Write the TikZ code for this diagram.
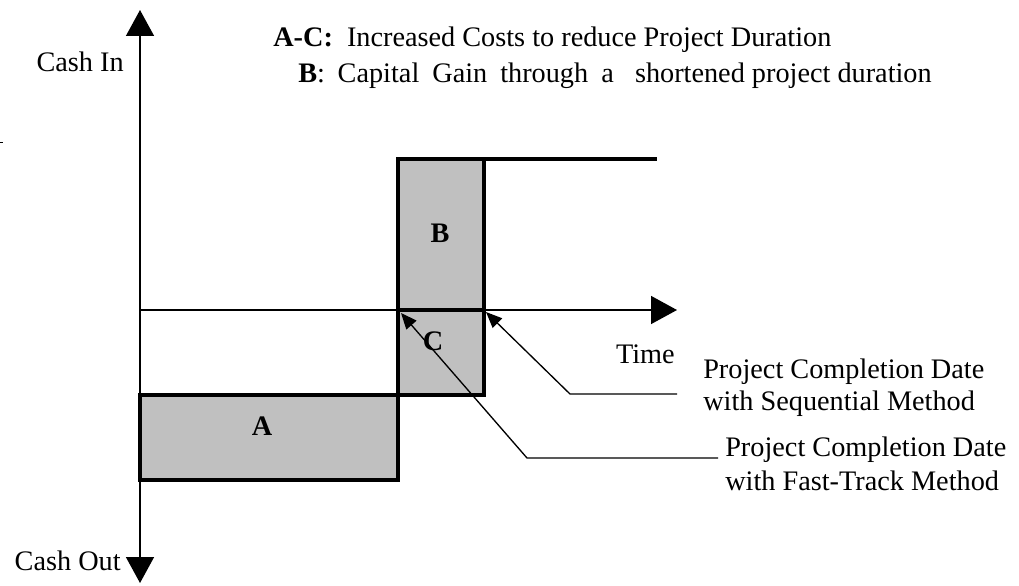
\documentclass[tikz,border=0pt]{standalone}
\usepackage{fontspec}
\setmainfont{Liberation Serif}
\usetikzlibrary{arrows.meta}
\definecolor{barfill}{HTML}{C0C0C0}
\begin{document}
\begin{tikzpicture}[x=0.75pt,y=-0.75pt,
  every node/.style={font=\fontsize{21.2}{25}\selectfont, inner sep=0pt},
  axis/.style={line width=1.1pt},
  bigtip/.style={-{Triangle[length=19.5pt,width=21pt]}},
  box/.style={draw, line width=2.6pt, fill=barfill},
  thickline/.style={line width=2.6pt},
  callout/.style={line width=1pt, -{Triangle[length=12pt,width=10pt]}},
  lbl/.style={font=\fontsize{21.2}{25}\selectfont\bfseries}]
\useasboundingbox (0,0) rectangle (1019,585);
% axes
\coordinate (O) at (140,310);
\coordinate (ytop) at (140,10);
\coordinate (ybot) at (140,583);
\coordinate (xend) at (677,310);
\draw[axis,bigtip] (O) -- (ytop);
\draw[axis,bigtip] (O) -- (ybot);
\draw[axis,bigtip] (O) -- (xend);
% bars
\draw[box] (140,395) rectangle (398,480);
\draw[box] (398,310) rectangle (484,395);
\draw[box] (398,159) rectangle (484,310);
\coordinate (bt) at (484,159);
\coordinate (lineend) at (657,159);
\draw[thickline] (bt) -- (lineend);
% labels
\node[lbl,anchor=base] (A) at (262,435) {A};
\node[lbl,anchor=base] (B) at (440,242) {B};
\node[lbl,anchor=base] (C) at (433,350) {C};
% axis texts
\node[anchor=base east] (cashin) at (124,71) {Cash In};
\node[anchor=base east] (cashout) at (121,570) {Cash Out};
\node[anchor=base east] (time) at (675,363) {Time};
% legend
\node[anchor=base west] (leg1) at (273,47) {\textbf{A-C:}\hspace{0.5em}Increased Costs to reduce Project Duration};
\node[anchor=base west] (leg2) at (298,83) {\textbf{B}:\hspace{0.45em}Capital\hspace{0.46em}Gain\hspace{0.46em}through\hspace{0.46em}a\hspace{0.75em}shortened project duration};
% callouts
\node[anchor=base west] (seq1) at (703,378) {Project Completion Date};
\node[anchor=base west] (seq2) at (703,410) {with Sequential Method};
\node[anchor=base west] (fast1) at (725,456) {Project Completion Date};
\node[anchor=base west] (fast2) at (725,490) {with Fast-Track Method};
\coordinate (s1) at (677,394);
\coordinate (s2) at (570,394);
\coordinate (stip) at (486,312);
\draw[callout] (s1) -- (s2) -- (stip);
\coordinate (f1) at (718,458);
\coordinate (f2) at (527,458);
\coordinate (ftip) at (401,313);
\draw[callout] (f1) -- (f2) -- (ftip);
% small stray mark
\coordinate (m1) at (0,142);
\coordinate (m2) at (3,142);
\draw[line width=0.6pt] (m1) -- (m2);
\end{tikzpicture}
\end{document}
